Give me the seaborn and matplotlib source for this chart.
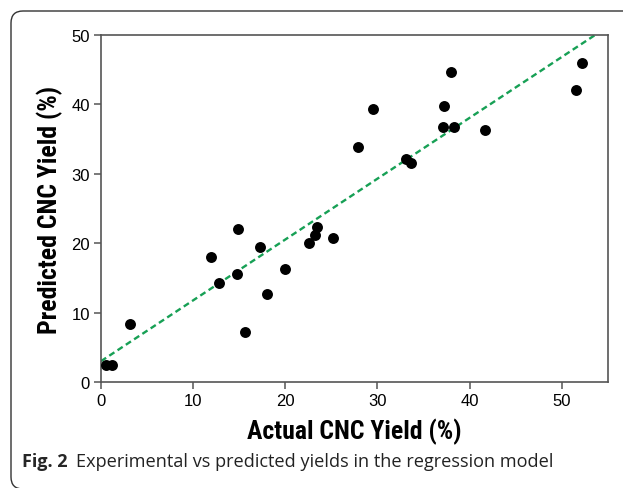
import numpy as np
import pandas as pd
import matplotlib
matplotlib.use("Agg")
import matplotlib.pyplot as plt
from matplotlib.patches import FancyBboxPatch
from matplotlib.transforms import IdentityTransform
import seaborn as sns

# values
actual = [0.5, 1.2, 3.1, 11.9, 12.8, 14.9, 14.8, 15.6, 17.3, 18.0, 20.0, 22.6, 23.2,
          23.4, 25.2, 27.9, 29.5, 33.1, 33.7, 37.1, 37.2, 38.0, 38.3, 41.7, 51.6, 52.2]
predicted = [2.4, 2.4, 8.3, 18.0, 14.2, 22.0, 15.6, 7.2, 19.5, 12.7, 16.3, 20.0, 21.2,
             22.4, 20.7, 33.8, 39.4, 32.2, 31.5, 36.7, 39.7, 44.6, 36.7, 36.3, 42.1, 45.9]
# dashed trend line end points
fit_x = [0, 55]
fit_y = [3.0, 51.2]
xticks = [0, 10, 20, 30, 40, 50]
yticks = [0, 10, 20, 30, 40, 50]

df = pd.DataFrame({"actual": actual, "predicted": predicted})
fit = pd.DataFrame({"x": fit_x, "y": fit_y})

sns.set_theme(style="white")
plt.rcParams["font.family"] = ["Liberation Sans", "DejaVu Sans"]

fig = plt.figure(figsize=(6.23, 4.89), dpi=100)
ax = fig.add_axes([101 / 623, 1 - 383 / 489, 506.7 / 623, 347 / 489])

sns.lineplot(data=fit, x="x", y="y", ax=ax, color="#17a055", lw=1.7,
             linestyle=(0, (2.6, 1.6)))
sns.scatterplot(data=df, x="actual", y="predicted", ax=ax, color="black",
                s=62, linewidth=0, zorder=3)

ax.set_xlim(0, 55)
ax.set_ylim(0, 50)
ax.set_xticks(xticks)
ax.set_yticks(yticks)
ax.tick_params(axis="both", which="major", direction="out", length=5, width=1.1,
               color="#555555", labelsize=12, labelcolor="black", pad=3,
               bottom=True, left=True)
for sp in ax.spines.values():
    sp.set_color("#555555")
    sp.set_linewidth(1.2)

# narrow bold face for axis titles
lab = dict(family=["Liberation Sans Narrow", "DejaVu Sans Condensed", "Roboto Condensed",
                   "Liberation Sans"],
           fontweight="bold", fontstretch="condensed", fontsize=18.5, color="black")
ax.set_xlabel("Actual CNC Yield (%)", labelpad=7, **lab)
ax.set_ylabel("Predicted CNC Yield (%)", labelpad=6, **lab)

# rounded frame round the figure (only left/top edges visible)
frame = FancyBboxPatch((11, -1), 640, 489 - 12 + 1,
                       boxstyle="round,pad=0,rounding_size=12",
                       transform=IdentityTransform(), fill=False,
                       edgecolor="#333333", linewidth=1.0)
fig.patches.append(frame)

cap_y = 1 - 467 / 489
fig.text(22 / 623, cap_y, "Fig. 2", family=["Open Sans", "DejaVu Sans"],
         fontweight="bold", fontsize=13, va="baseline")
fig.text(76 / 623, cap_y, "Experimental vs predicted yields in the regression model",
         family=["Open Sans", "DejaVu Sans"], fontsize=13.1, va="baseline",
         color="#222222")

fig.savefig("out.png", dpi=100)
